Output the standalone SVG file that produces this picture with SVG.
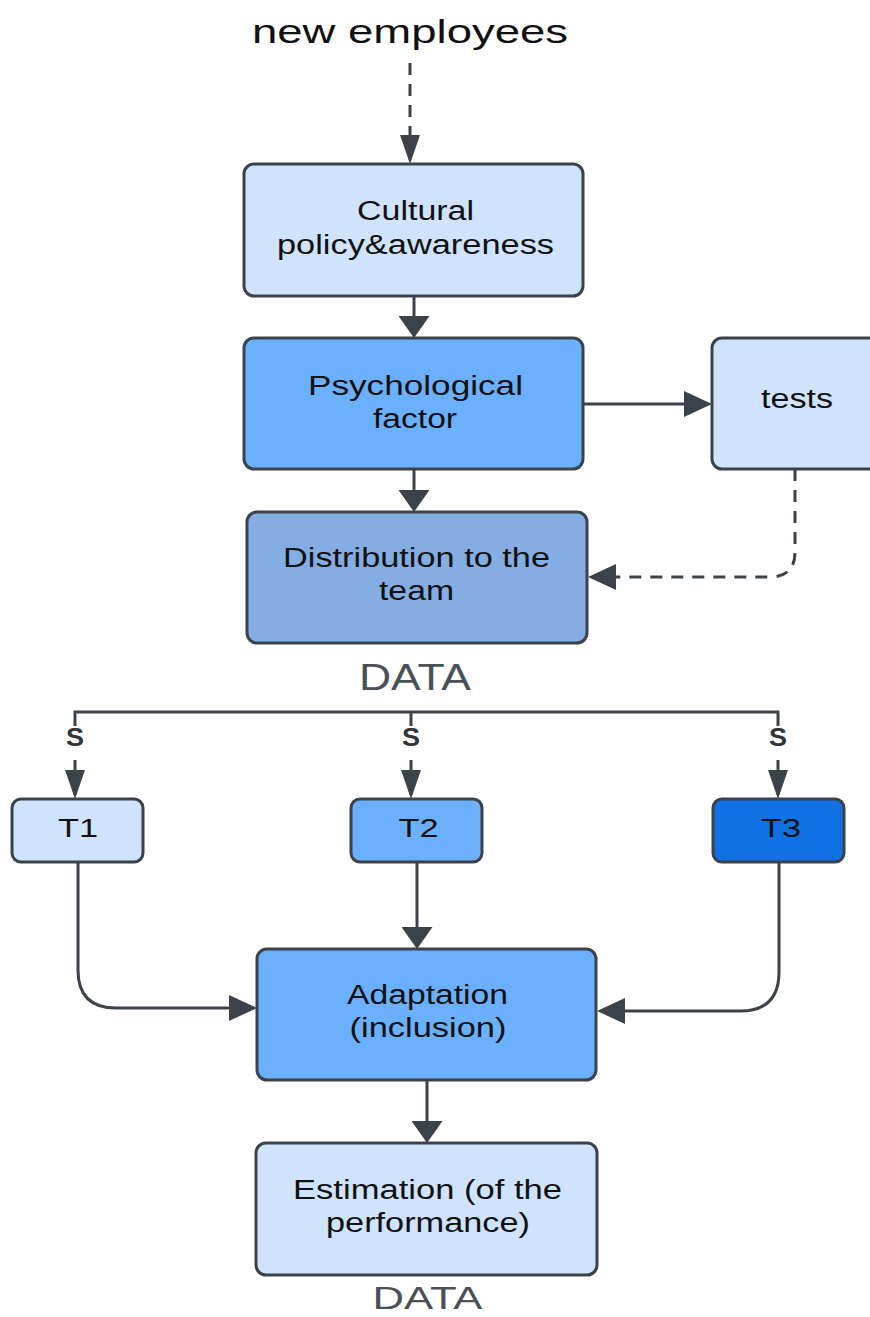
<svg xmlns="http://www.w3.org/2000/svg" width="870" height="1317" viewBox="0 0 870 1317">
<style>
.box{stroke:#3c424a;stroke-width:3}
.light{fill:#cfe3fd}
.mid{fill:#6bb0fd}
.dist{fill:#84ade4}
.dark{fill:#1170e4}
.lbl{font-family:"Liberation Sans",Arial,sans-serif;font-size:27px;fill:#111;text-anchor:middle}
.data{font-family:"Liberation Sans",Arial,sans-serif;font-size:36px;fill:#4a5058;text-anchor:middle}
.s{font-family:"Liberation Sans",Arial,sans-serif;font-size:25px;font-weight:bold;fill:#30353c;text-anchor:middle}
.ln{fill:none;stroke:#3c424a;stroke-width:3}
.dash{stroke-dasharray:12 9}
</style>
<defs>
<marker id="mBig" markerUnits="userSpaceOnUse" markerWidth="22" markerHeight="31" refX="18" refY="15.5" orient="auto"><path d="M0,0 L22,15.5 L0,31 z" fill="#3c424a"/></marker>
<marker id="mSide" markerUnits="userSpaceOnUse" markerWidth="28" markerHeight="26" refX="24" refY="13" orient="auto"><path d="M0,0 L28,13 L0,26 z" fill="#3c424a"/></marker>
<marker id="mThin" markerUnits="userSpaceOnUse" markerWidth="29" markerHeight="20" refX="25" refY="10" orient="auto"><path d="M0,0 L29,10 L0,20 z" fill="#3c424a"/></marker>
</defs>
<rect width="870" height="1317" fill="#ffffff"/>
<text class="lbl" x="410" y="43" style="font-size:34px" textLength="316" lengthAdjust="spacingAndGlyphs">new employees</text>
<g id="connectors">
<path class="ln dash" d="M410,63 V160" marker-end="url(#mThin)"/>
<path class="ln" d="M414,296 V334" marker-end="url(#mBig)"/>
<path class="ln" d="M584,404 H708" marker-end="url(#mSide)"/>
<path class="ln" d="M414,469 V508" marker-end="url(#mBig)"/>
<path class="ln dash" d="M795,469 V552 Q795,577 770,577 H592" marker-end="url(#mSide)"/>
<path class="ln" d="M75,726 V712 H778 V726 M411,712 V726"/>
<text class="s" x="75" y="746" textLength="18" lengthAdjust="spacingAndGlyphs">S</text>
<text class="s" x="411" y="746" textLength="18" lengthAdjust="spacingAndGlyphs">S</text>
<text class="s" x="778" y="746" textLength="18" lengthAdjust="spacingAndGlyphs">S</text>
<path class="ln" d="M75,760 V795" marker-end="url(#mThin)"/>
<path class="ln" d="M411,760 V795" marker-end="url(#mThin)"/>
<path class="ln" d="M778,760 V795" marker-end="url(#mThin)"/>
<path class="ln" d="M78,862 V970 Q78,1008 116,1008 H253" marker-end="url(#mSide)"/>
<path class="ln" d="M417,862 V945" marker-end="url(#mBig)"/>
<path class="ln" d="M779,862 V972 Q779,1011 740,1011 H601" marker-end="url(#mSide)"/>
<path class="ln" d="M427,1080 V1139" marker-end="url(#mBig)"/>
</g>
<g id="cultural">
<rect class="box light" x="244" y="164" width="339" height="132" rx="10"/>
<text class="lbl" x="415.5" y="220" textLength="117" lengthAdjust="spacingAndGlyphs">Cultural</text>
<text class="lbl" x="415.5" y="254" textLength="277" lengthAdjust="spacingAndGlyphs">policy&amp;awareness</text>
</g>
<g id="psych">
<rect class="box mid" x="244" y="338" width="339" height="131" rx="10"/>
<text class="lbl" x="415.5" y="395" textLength="215" lengthAdjust="spacingAndGlyphs">Psychological</text>
<text class="lbl" x="415" y="428" textLength="84" lengthAdjust="spacingAndGlyphs">factor</text>
</g>
<g id="tests">
<rect class="box light" x="712" y="338" width="170" height="131" rx="10"/>
<text class="lbl" x="797" y="408" textLength="72" lengthAdjust="spacingAndGlyphs">tests</text>
</g>
<g id="distribution">
<rect class="box dist" x="247" y="512" width="340" height="131" rx="10"/>
<text class="lbl" x="416.5" y="567" textLength="267" lengthAdjust="spacingAndGlyphs">Distribution to the</text>
<text class="lbl" x="416.5" y="600" textLength="75" lengthAdjust="spacingAndGlyphs">team</text>
</g>
<text class="data" x="415" y="690" textLength="112" lengthAdjust="spacingAndGlyphs">DATA</text>
<g id="t1">
<rect class="box light" x="12" y="799" width="131" height="63" rx="9"/>
<text class="lbl" x="78" y="837" style="font-size:26px" textLength="40" lengthAdjust="spacingAndGlyphs">T1</text>
</g>
<g id="t2">
<rect class="box mid" x="351" y="799" width="131" height="63" rx="9"/>
<text class="lbl" x="418.5" y="837" style="font-size:26px" textLength="40" lengthAdjust="spacingAndGlyphs">T2</text>
</g>
<g id="t3">
<rect class="box dark" x="713" y="799" width="131" height="63" rx="9"/>
<text class="lbl" x="781" y="837" style="font-size:26px" textLength="40" lengthAdjust="spacingAndGlyphs">T3</text>
</g>
<g id="adaptation">
<rect class="box mid" x="257" y="949" width="339" height="131" rx="10"/>
<text class="lbl" x="427.5" y="1004" textLength="161" lengthAdjust="spacingAndGlyphs">Adaptation</text>
<text class="lbl" x="428" y="1037" textLength="157" lengthAdjust="spacingAndGlyphs">(inclusion)</text>
</g>
<g id="estimation">
<rect class="box light" x="256" y="1143" width="341" height="132" rx="10"/>
<text class="lbl" x="427.5" y="1199" textLength="269" lengthAdjust="spacingAndGlyphs">Estimation (of the</text>
<text class="lbl" x="428" y="1232" textLength="204" lengthAdjust="spacingAndGlyphs">performance)</text>
</g>
<text class="data" x="427.5" y="1309" style="font-size:32px" textLength="110" lengthAdjust="spacingAndGlyphs">DATA</text>
</svg>
